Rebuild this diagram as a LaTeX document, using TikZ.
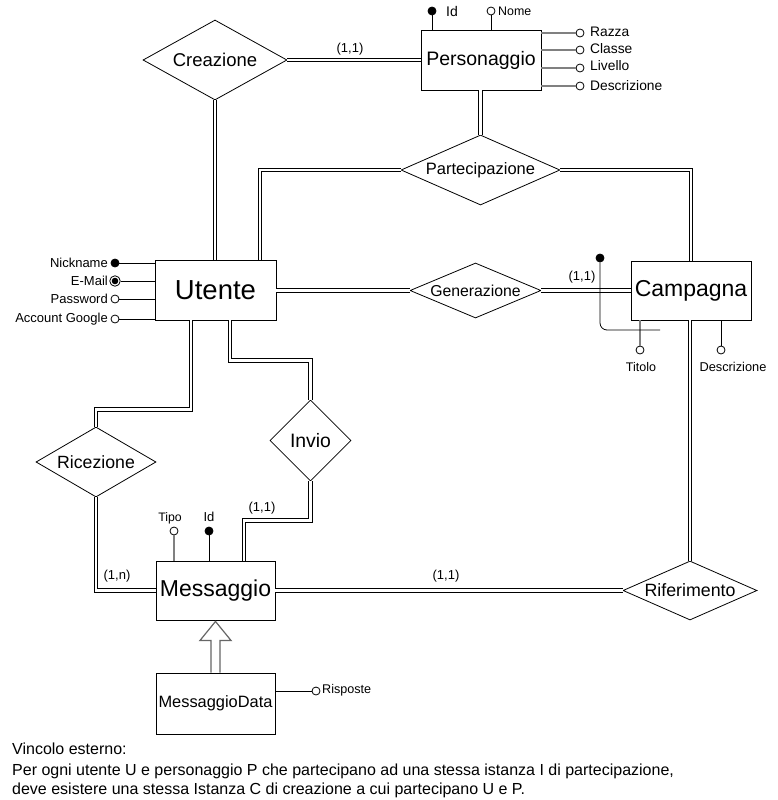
\documentclass[tikz,border=0pt]{standalone}
\usepackage{fontspec}
\setmainfont{Liberation Sans}
\usetikzlibrary{shapes.geometric,calc}
\begin{document}
\begin{tikzpicture}[x=1pt,y=-1pt,
  ent/.style={draw,line width=0.9pt,inner sep=0pt,align=center},
  rel/.style={draw,diamond,line width=0.8pt,inner sep=0pt},
  dbl/.style={draw,line width=1pt,double,double distance=2.3pt},
  attr/.style={circle,draw,fill=white,minimum size=8pt,inner sep=0pt,line width=0.8pt},
  keyattr/.style={attr,fill=black},
  aline/.style={draw,line width=0.8pt},
  gline/.style={draw,line width=1.6pt,gray},
  lbl/.style={inner sep=0pt,font=\fontsize{13}{14}\selectfont},
  card/.style={inner sep=0pt,font=\fontsize{13}{14}\selectfont},
  txt/.style={inner sep=0pt,anchor=west,font=\fontsize{16}{17}\selectfont}
]
\useasboundingbox (0,0) rectangle (778,800);
\fill[white] (0,0) rectangle (778,800);

% entities
\node[ent,minimum width=120pt,minimum height=60pt,font=\fontsize{19.5}{20}\selectfont] (pe) at (481,60) {Personaggio};
\node[ent,minimum width=121pt,minimum height=60pt,font=\fontsize{27.5}{28}\selectfont] (ut) at (215.5,290) {Utente};
\node[ent,minimum width=120pt,minimum height=59pt,font=\fontsize{23}{24}\selectfont] (ca) at (691,290.5) {Campagna};
\node[ent,minimum width=119pt,minimum height=59pt,font=\fontsize{23}{24}\selectfont] (me) at (215.5,590.5) {Messaggio};
\node[ent,minimum width=119pt,minimum height=61pt,font=\fontsize{16.4}{17}\selectfont] (md) at (215.5,703.5) {MessaggioData};

% relationships
\node[rel,aspect=1.8,minimum width=144pt,minimum height=80pt,font=\fontsize{18.5}{19}\selectfont] (cr) at (215,60) {Creazione};
\node[rel,aspect=2.27,minimum width=159pt,minimum height=70pt,font=\fontsize{16.5}{17}\selectfont] (pa) at (480.5,170) {Partecipazione};
\node[rel,aspect=2.38,minimum width=131pt,minimum height=55pt,font=\fontsize{15.8}{16}\selectfont] (ge) at (475.5,290.5) {Generazione};
\node[rel,aspect=2.27,minimum width=134pt,minimum height=59pt,font=\fontsize{17.8}{18}\selectfont] (rf) at (690,590.5) {Riferimento};
\node[rel,aspect=1.71,minimum width=120pt,minimum height=70pt,font=\fontsize{17.7}{18}\selectfont] (rc) at (96,462) {Ricezione};
\node[rel,aspect=1,minimum width=81pt,minimum height=81pt,font=\fontsize{19.4}{20}\selectfont] (iv) at (310.5,440.5) {Invio};

% connectors
\draw[dbl] (cr.east) -- (cr.east -| pe.west);
\draw[dbl] (cr.south) -- (cr.south |- ut.north);
\draw[dbl] (pa.north) -- (pa.north |- pe.south);
\draw[dbl] (pa.west) -| ([xshift=44.5pt]ut.north);
\draw[dbl] (pa.east) -| (ca.north);
\draw[dbl] (ut.east |- ge.west) -- (ge.west);
\draw[dbl] (ge.east) -- (ge.east -| ca.west);
\draw[dbl] (rf.north) -- (rf.north |- ca.south);
\draw[dbl] (me.east) -- (rf.west);
\draw[dbl] (rc.north) -- ++(0,-17) -| ([xshift=-24.5pt]ut.south);
\draw[dbl] (rc.south) |- (me.west);
\draw[dbl] ([xshift=14.5pt]ut.south) -- ++(0,40) -| (iv.north);
\draw[dbl] (iv.south) -- ++(0,39) -| ([xshift=28.5pt]me.north);

% cardinalities
\node[card] (c1) at (350,49) {(1,1)};
\node[card] (c2) at (582,277) {(1,1)};
\node[card] (c3) at (117,576) {(1,n)};
\node[card] (c4) at (262,508) {(1,1)};
\node[card] (c5) at (446,576) {(1,1)};

% Personaggio attributes
\node[keyattr] (pid) at (432,11) {};
\node[lbl,anchor=west,font=\fontsize{14}{14}\selectfont] (pidl) at (446,11) {Id};
\draw[aline] (pid) -- (pid |- pe.north);
\node[attr] (pno) at (491,11) {};
\node[lbl,anchor=west,font=\fontsize{12.4}{13}\selectfont] (pnol) at (498,11) {Nome};
\draw[aline] (pno) -- (pno |- pe.north);
\node[attr] (pra) at (580,33) {};
\node[attr] (pcl) at (580,50) {};
\node[attr] (pli) at (580,68) {};
\node[attr] (pde) at (580,86) {};
\draw[gline] (pe.east |- pra) -- (pra);
\draw[gline] (pe.east |- pcl) -- (pcl);
\draw[gline] (pe.east |- pli) -- (pli);
\draw[gline] (pe.east |- pde) -- (pde);
\node[lbl,anchor=west,font=\fontsize{13.8}{14}\selectfont] (pral) at (590,32) {Razza};
\node[lbl,anchor=west,font=\fontsize{13.8}{14}\selectfont] (pcll) at (590,49) {Classe};
\node[lbl,anchor=west,font=\fontsize{13.8}{14}\selectfont] (plil) at (590,66) {Livello};
\node[lbl,anchor=west,font=\fontsize{13.8}{14}\selectfont] (pdel) at (590,86) {Descrizione};

% Utente attributes
\node[keyattr] (unk) at (115,263) {};
\node[attr,minimum size=10.5pt] (uem) at (115,281) {};
\fill (uem.center) circle (3.3pt);
\node[attr] (upw) at (115,299) {};
\node[attr] (uag) at (115,319) {};
\draw[aline] (unk) -- (unk -| ut.west);
\draw[aline] (uem) -- (uem -| ut.west);
\draw[aline] (upw) -- (upw -| ut.west);
\draw[aline] (uag) -- (uag -| ut.west);
\node[lbl,anchor=east] (unkl) at (108,263) {Nickname};
\node[lbl,anchor=east] (ueml) at (108,281) {E-Mail};
\node[lbl,anchor=east] (upwl) at (108,299) {Password};
\node[lbl,anchor=east] (uagl) at (108,319) {Account Google};

% Campagna attributes
\node[attr] (cti) at (640,350) {};
\draw[gline,line width=1.4pt] (cti |- ca.south) -- (cti);
\node[lbl,font=\fontsize{12.5}{13}\selectfont] (ctil) at (641,367) {Titolo};
\node[attr] (cde) at (721,350) {};
\draw[aline] (cde |- ca.south) -- (cde);
\node[lbl,font=\fontsize{12.8}{13}\selectfont] (cdel) at (733,367) {Descrizione};
\node[keyattr] (cid) at (600,258) {};
\coordinate (cidend) at (660,330);
\draw[aline,rounded corners=7pt] (cid) |- (cidend);

% Messaggio attributes
\node[attr] (mti) at (174,531) {};
\draw[gline,line width=1.4pt] (mti |- me.north) -- (mti);
\node[lbl,font=\fontsize{12.3}{13}\selectfont] (mtil) at (170,518) {Tipo};
\node[keyattr] (mid) at (209,531) {};
\draw[aline] (mid |- me.north) -- (mid);
\node[lbl] (midl) at (209,517) {Id};

% MessaggioData attribute
\node[attr] (mri) at (316,691) {};
\draw[aline] (mri -| md.east) -- (mri);
\node[lbl,anchor=west,font=\fontsize{12.6}{13}\selectfont] (mril) at (322,690) {Risposte};

% generalization arrow
\draw[line width=1.2pt,draw=black!60,fill=white,line join=miter]
  ($(md.north)+(-4.5,0)$) -- ($(me.south)+(-4.5,20)$) -- ($(me.south)+(-15.5,20)$)
  -- ($(me.south)+(0,1)$) -- ($(me.south)+(15.5,20)$) -- ($(me.south)+(4.5,20)$)
  -- ($(md.north)+(4.5,0)$);

% external constraint text
\node[txt] (t1) at (12,749) {Vincolo esterno:};
\node[txt] (t2) at (12,771) {Per ogni utente U e personaggio P che partecipano ad una stessa istanza I di partecipazione,};
\node[txt] (t3) at (12,790) {deve esistere una stessa Istanza C di creazione a cui partecipano U e P.};
\end{tikzpicture}
\end{document}
